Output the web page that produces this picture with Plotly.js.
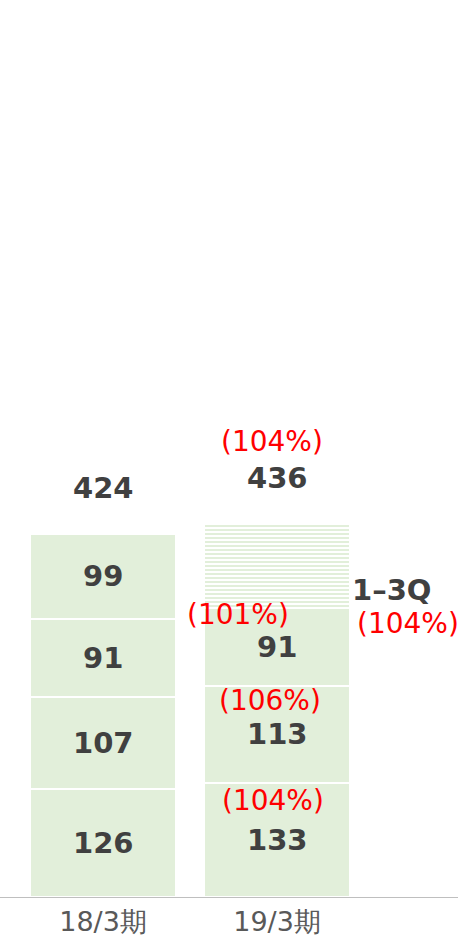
<!DOCTYPE html>
<html><head><meta charset="utf-8">
<script src="https://cdn.plot.ly/plotly-3.0.1.min.js"></script>
<style>html,body{margin:0;padding:0;background:#fff;}#chart{width:458px;height:941px;}</style>
</head><body><div id="chart"></div>
<script>
const categories = ['18/3期', '19/3期'];
const q1 = [126, 133];
const q2 = [107, 113];
const q3 = [91, 91];
const q4 = [99, null];
const q4Forecast = [null, 99];
const totals = [424, 436];
const q1Ratio = [null, '104%'];
const q2Ratio = [null, '106%'];
const q3Ratio = [null, '101%'];
const totalRatio = [null, '104%'];
const cumLabel = '1–3Q';
const cumRatio = '104%';

const fill = '#e2efda';
const dark = '#404040';
const red = '#ff0000';
const barW = 0.84;
const numFont = {family: 'DejaVu Sans', size: 29, color: dark, weight: 'bold'};
const redFont = {family: 'DejaVu Sans', size: 28, color: red};

function solid(name, vals) {
  return {type: 'bar', name: name, x: categories, y: vals, width: barW,
    marker: {color: fill, line: {color: '#ffffff', width: 2}}, hoverinfo: 'skip'};
}
const traces = [solid('1Q', q1), solid('2Q', q2), solid('3Q', q3), solid('4Q', q4),
  {type: 'bar', name: '4Q予想', x: categories, y: q4Forecast, width: barW,
   marker: {color: '#ffffff', line: {color: '#ffffff', width: 2},
     pattern: {shape: '-', fgcolor: '#d6e8cb', bgcolor: '#ffffff', size: 4, solidity: 0.35, fillmode: 'replace'}},
   hoverinfo: 'skip'}];

const ann = [];
const segs = [q1, q2, q3, q4];
const ratios = [q1Ratio, q2Ratio, q3Ratio];
const ratioShift = [[-4, 39], [-7, 34], [-39, 32]];
categories.forEach((c, i) => {
  let base = 0;
  segs.forEach((s, k) => {
    if (s[i] == null) return;
    const mid = base + s[i] / 2;
    ann.push({x: c, y: mid, text: String(s[i]), showarrow: false, font: numFont});
    if (k < 3 && ratios[k][i]) {
      ann.push({x: c, y: mid, text: '(' + ratios[k][i] + ')', showarrow: false, font: redFont,
        xshift: ratioShift[k][0], yshift: ratioShift[k][1]});
    }
    base += s[i];
  });
  ann.push({x: c, y: totals[i], text: String(totals[i]), showarrow: false, font: numFont, yshift: 45});
  if (totalRatio[i]) {
    ann.push({x: c, y: totals[i], text: '(' + totalRatio[i] + ')', showarrow: false, font: redFont, yshift: 81, xshift: -5});
  }
});
const cum = q1[1] + q2[1] + q3[1];
ann.push({x: 1 + barW / 2, y: cum, text: cumLabel, showarrow: false, font: numFont, xanchor: 'left', xshift: 0, yshift: 18});
ann.push({x: 1 + barW / 2, y: cum, text: '(' + cumRatio + ')', showarrow: false, font: redFont, xanchor: 'left', xshift: 5, yshift: -16});

const layout = {
  width: 458, height: 941, barmode: 'stack', showlegend: false,
  margin: {l: 0, r: 0, t: 0, b: 44},
  paper_bgcolor: '#ffffff', plot_bgcolor: '#ffffff',
  xaxis: {type: 'category', range: [-0.592, 2.04], showline: true, linecolor: '#bfbfbf', linewidth: 1,
    ticks: '', ticklabelstandoff: 1, tickfont: {family: 'DejaVu Sans', size: 27, color: '#595959'}, showgrid: false, zeroline: false, fixedrange: true},
  yaxis: {range: [0, 1045], visible: false, showgrid: false, zeroline: false, fixedrange: true},
  annotations: ann
};
Plotly.newPlot('chart', traces, layout, {staticPlot: true, displayModeBar: false});
</script></body></html>
